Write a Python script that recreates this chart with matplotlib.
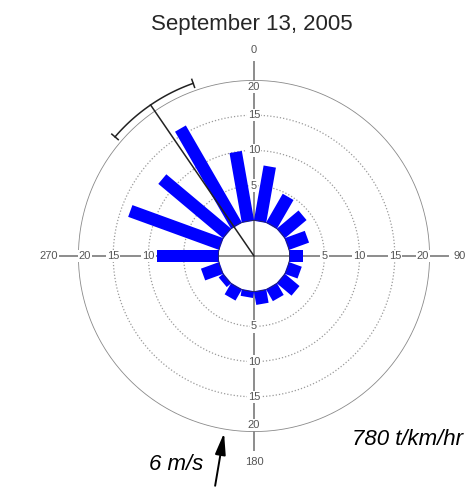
import numpy as np
import matplotlib
matplotlib.use("Agg")
import matplotlib.pyplot as plt
from matplotlib.patches import Polygon

plt.rcParams['font.family'] = ['Liberation Sans', 'DejaVu Sans']

# Sector centres (degrees clockwise from north) and transport per sector
directions = [10, 30, 50, 70, 90, 110, 130, 150, 170,
              190, 210, 230, 250, 270, 290, 310, 330, 350]
flux = [7.9, 4.7, 4.0, 3.0, 1.9, 1.9, 2.7, 1.9, 1.9,
        0.9, 1.8, 0.8, 2.7, 8.8, 13.7, 12.0, 15.9, 10.0]

ring_values = [5, 10, 15]
outer_value = 20
radial_ticks = [5, 10, 15, 20]
radial_labels = ["5", "10", "15", "20"]
compass_angles = [0, 90, 180, 270]
compass_labels = ["0", "90", "180", "270"]

mean_direction = 325.6      # resultant direction, degrees
mean_spread = 15.0          # half-width of the bracket, degrees
wind_direction = 189.6      # wind arrow position, degrees

title = "September 13, 2005"
speed_text = "6 m/s"
total_text = "780 t/km/hr"

W, H = 474, 487
fig = plt.figure(figsize=(W / 100, H / 100), dpi=100)

cx, cy, R = 254, 256, 176           # centre and outer-ring radius in pixels
hub = 5.0                           # empty hub, in radial data units
ax = fig.add_axes([(cx - R) / W, (H - cy - R) / H, 2 * R / W, 2 * R / H],
                  projection='polar')
ax.set_theta_zero_location('N')
ax.set_theta_direction(-1)
ax.set_rorigin(-hub)
ax.set_ylim(0, outer_value)
ax.axis('off')

px_per_unit = R / (outer_value + hub)
half_w = 6.25 / px_per_unit         # half bar width in radial units

gray_line = '#8c8c8c'
label_gray = '#555555'

# dotted rings and solid outer ring
t = np.linspace(0, 2 * np.pi, 721)
for rv in ring_values:
    ax.plot(t, np.full_like(t, rv), color='#9a9a9a', lw=0.9,
            ls=(0, (1, 1.6)), zorder=1)
ax.plot(t, np.full_like(t, outer_value), color='#8a8a8a', lw=1.2, zorder=1)

# cross-hair axes
for ang in compass_angles:
    th = np.deg2rad(ang)
    ax.plot([th, th], [-hub, 22.5], color=gray_line, lw=1.4,
            zorder=2, clip_on=False)

# radial tick labels along each axis (beneath the bars)
for ang in compass_angles:
    th = np.deg2rad(ang)
    for val, lab in zip(radial_ticks, radial_labels):
        rpos = val if val < outer_value else outer_value - 1.0
        ax.text(th, rpos, lab, ha='center', va='center', fontsize=8,
                color=label_gray, zorder=2.5,
                bbox=dict(facecolor='white', edgecolor='none', pad=0.8))

# rectangular bars of constant width, starting at the hub
for d, v in zip(directions, flux):
    th = np.deg2rad(d)
    d0 = np.sqrt(hub ** 2 - half_w ** 2)
    d1 = hub + v
    pts = []
    for dist, side in [(d0, -1), (d1, -1), (d1, 1), (d0, 1)]:
        rho = np.hypot(dist, half_w)
        phi = th + side * np.arctan2(half_w, dist)
        pts.append((phi, rho - hub))
    ax.add_patch(Polygon(pts, closed=True, facecolor='#0000ff',
                         edgecolor='none', zorder=3, clip_on=False))

# hub outline
ax.plot(t, np.zeros_like(t), color='#333333', lw=0.9, zorder=4)

# compass labels
for ang, lab in zip(compass_angles, compass_labels):
    ax.text(np.deg2rad(ang), 24.2, lab, ha='center', va='center',
            fontsize=8, color=label_gray, clip_on=False)

# resultant direction with spread bracket
md = np.deg2rad(mean_direction)
ax.plot([md, md], [-hub, 21], color='#222222', lw=1.1, zorder=6, clip_on=False)
ta = np.linspace(np.deg2rad(mean_direction - mean_spread),
                 np.deg2rad(mean_direction + mean_spread), 100)
ax.plot(ta, np.full_like(ta, 21), color='#222222', lw=1.1, zorder=6,
        clip_on=False)
for end in (ta[0], ta[-1]):
    ax.plot([end, end], [20.4, 21.6], color='#222222', lw=1.1, zorder=6,
            clip_on=False)

# wind arrow
wd = np.deg2rad(wind_direction)
ax.annotate('', xy=(wd, 20.5), xytext=(wd, 28.1), xycoords='data',
            textcoords='data', annotation_clip=False,
            arrowprops=dict(arrowstyle='-|>,head_length=1.3,head_width=0.32',
                            color='black', lw=1.4, mutation_scale=10,
                            shrinkA=0, shrinkB=0))

ax.set_xlim(0, 2 * np.pi)
ax.set_ylim(0, outer_value)

fig.text(252 / W, (H - 30) / H, title, ha='center', va='baseline',
         fontsize=16, color='#262626')
fig.text(407 / W, (H - 445) / H, total_text, ha='center', va='baseline',
         fontsize=16, style='italic', color='black')
fig.text(176 / W, (H - 470) / H, speed_text, ha='center', va='baseline',
         fontsize=16, style='italic', color='black')

fig.savefig('out.png', dpi=100, facecolor='white')
